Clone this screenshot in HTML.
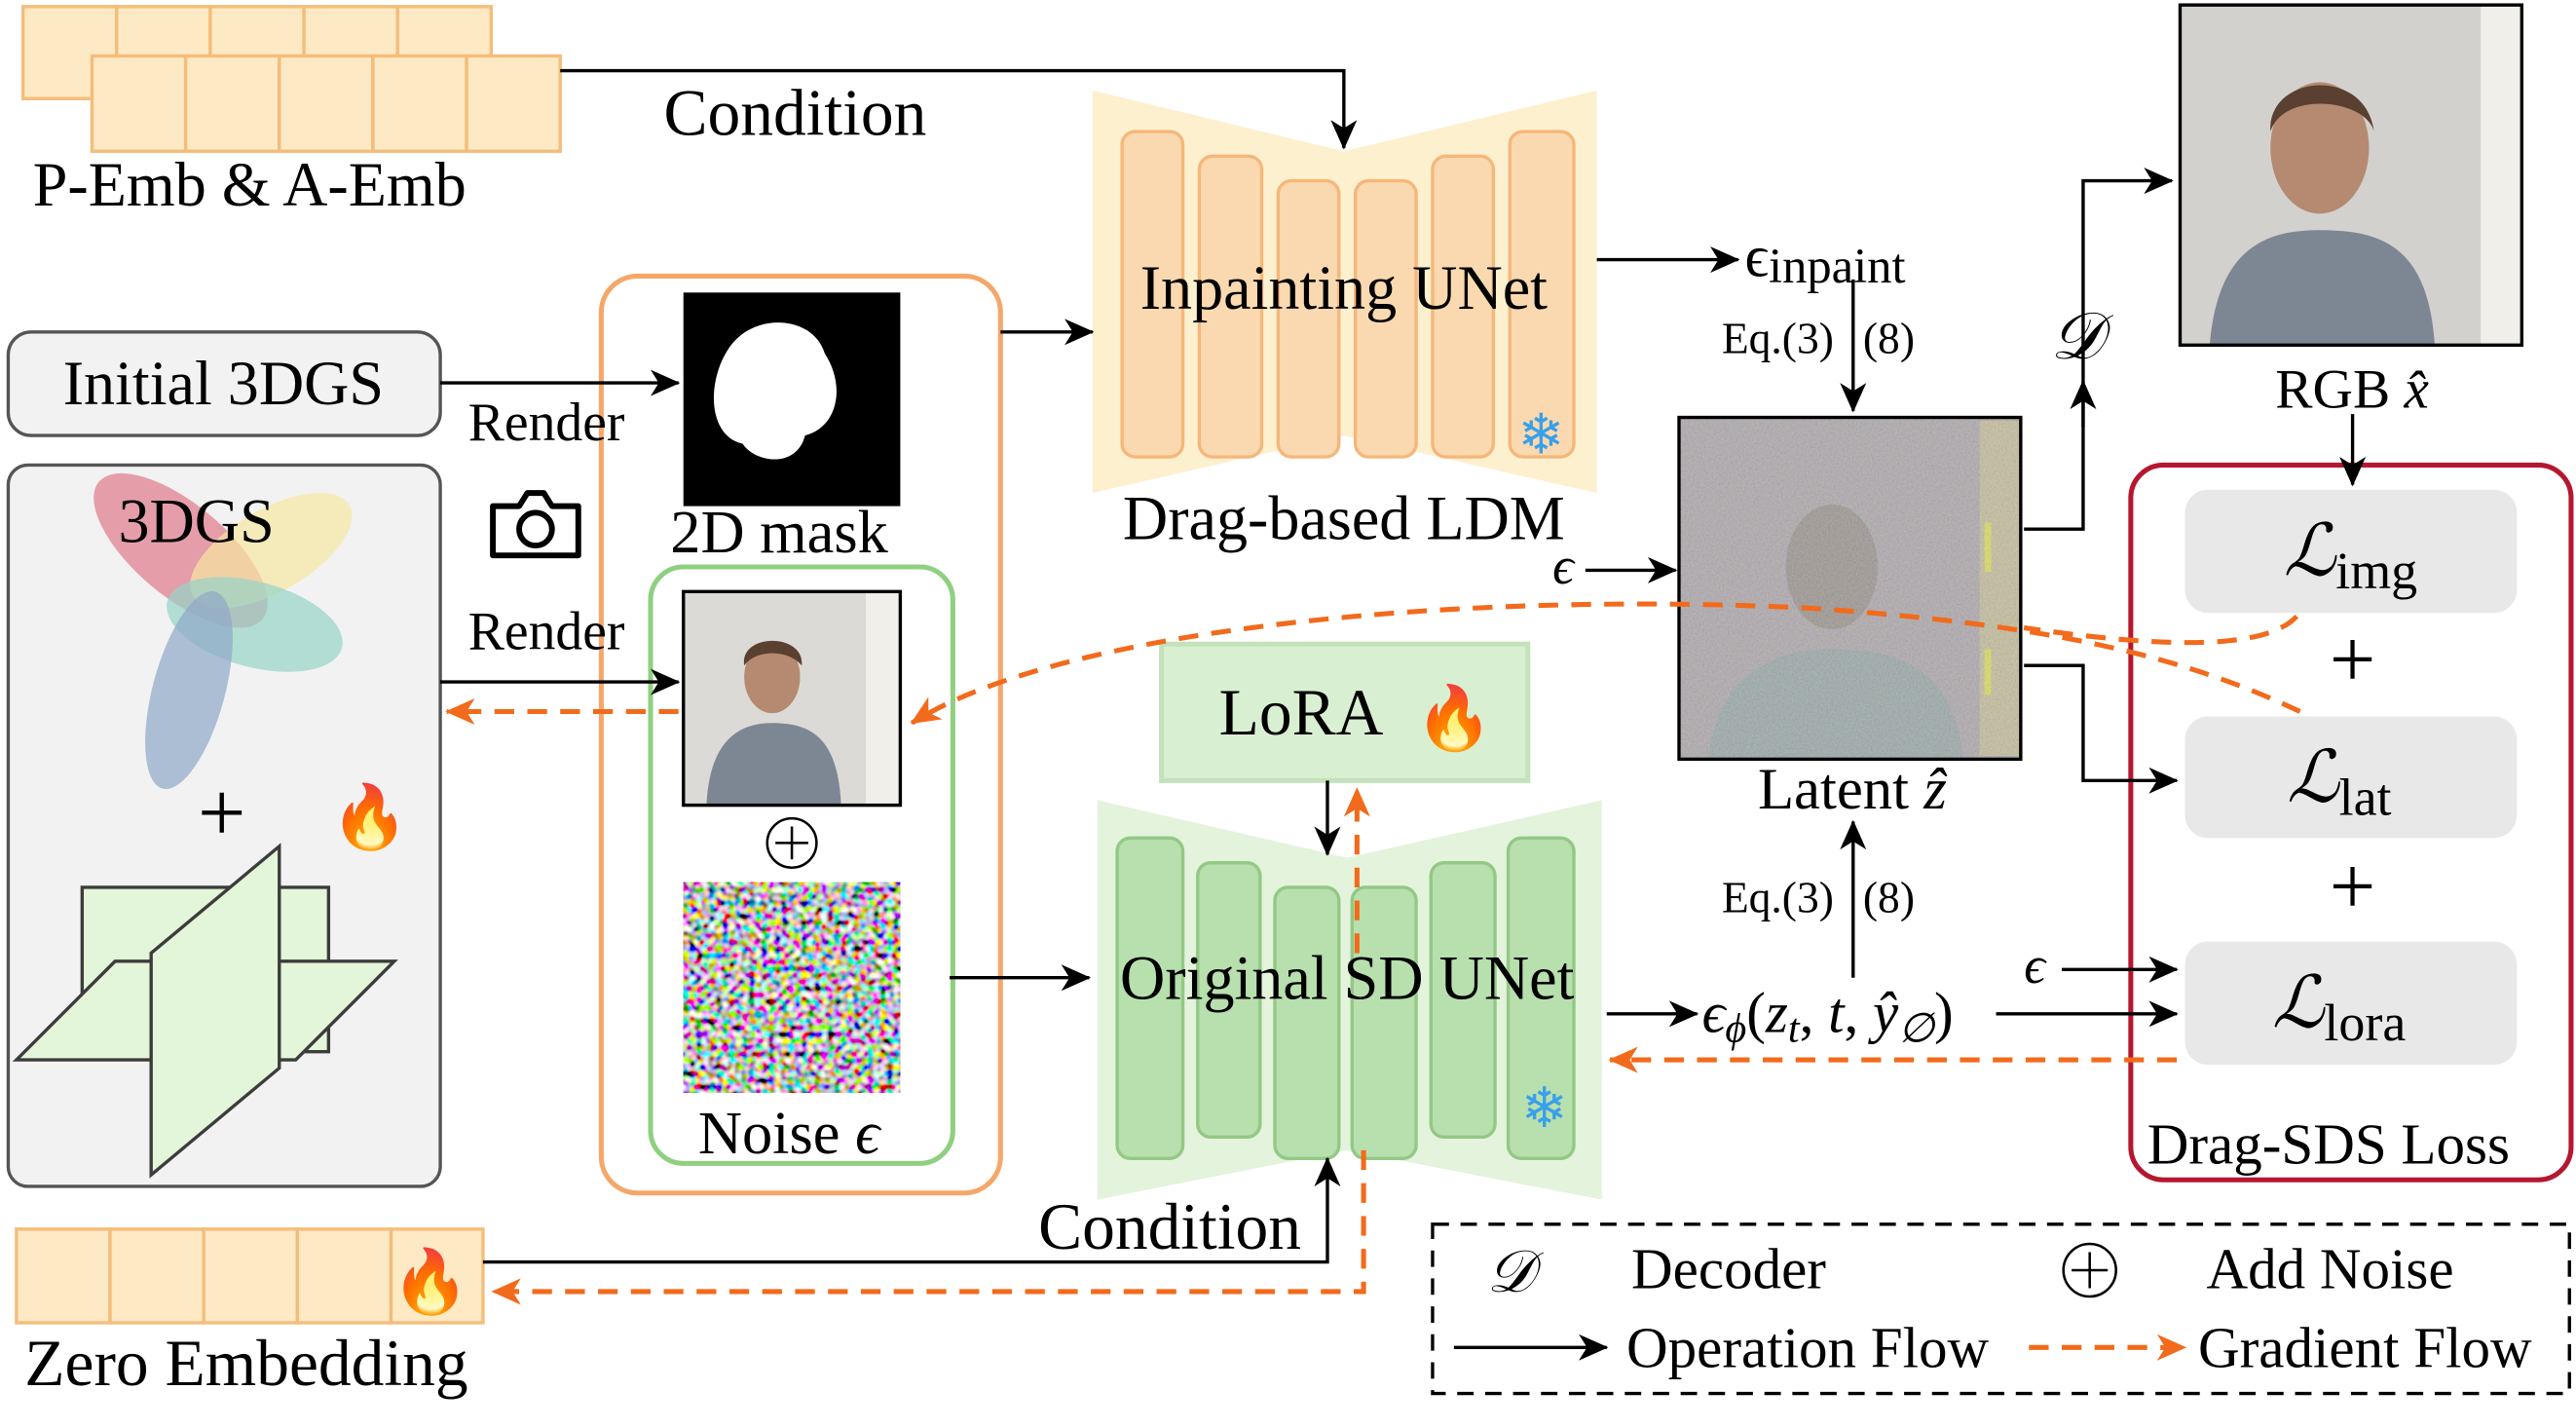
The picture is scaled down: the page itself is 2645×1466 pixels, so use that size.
<!DOCTYPE html>
<html><head><meta charset="utf-8">
<style>
html,body{margin:0;padding:0;background:#fff;}
svg{display:block;}
text{font-family:"Liberation Serif","DejaVu Serif",serif;fill:#000;}
</style></head>
<body>
<svg width="2645" height="1466" viewBox="0 0 1568 869" xmlns="http://www.w3.org/2000/svg">
<defs>
<marker id="ab2" markerWidth="18" markerHeight="16" refX="17" refY="8" orient="auto" markerUnits="userSpaceOnUse"><path d="M0,0 L18,8 L0,16 L5,8 z" fill="#000"/></marker>
<marker id="ao" markerWidth="18" markerHeight="16" refX="17" refY="8" orient="auto" markerUnits="userSpaceOnUse"><path d="M0,0 L18,8 L0,16 L5,8 z" fill="#f26a1b"/></marker>
<filter id="noise" x="0" y="0" width="100%" height="100%">
<feTurbulence type="fractalNoise" baseFrequency="0.25" numOctaves="1" seed="3"/>
<feColorMatrix type="matrix" values="3 0 0 0 -1  0 3 0 0 -1  0 0 3 0 -1  0 0 0 0 1"/>
</filter>
<filter id="lat" x="0" y="0" width="100%" height="100%">
<feTurbulence type="fractalNoise" baseFrequency="0.9" numOctaves="1" seed="5"/>
<feColorMatrix type="matrix" values="0.6 0 0 0 0.2  0 0.6 0 0 0.25  0 0 0.6 0 0.2  0 0 0 0 0.45"/>
</filter>
</defs>

<!-- P-Emb -->
<g fill="#fde9c4" stroke="#f5bd7a" stroke-width="2">
<rect x="14" y="4" width="57" height="56"/><rect x="71" y="4" width="57" height="56"/><rect x="128" y="4" width="57" height="56"/><rect x="185" y="4" width="57" height="56"/><rect x="242" y="4" width="57" height="56"/>
<rect x="56" y="34" width="57" height="58"/><rect x="113" y="34" width="57" height="58"/><rect x="170" y="34" width="57" height="58"/><rect x="227" y="34" width="57" height="58"/><rect x="284" y="34" width="57" height="58"/>
</g>
<text x="20" y="125" font-size="38">P-Emb &amp; A-Emb</text>
<text x="404" y="82" font-size="40">Condition</text>

<!-- Inpainting UNet -->
<polygon points="665,55 818,92 972,55 972,300 818,265 665,300" fill="#fdf0cf"/>
<g fill="#fbd9b0" stroke="#f5b77a" stroke-width="2">
<rect x="683" y="80" width="37" height="198" rx="8"/><rect x="730" y="95" width="38" height="183" rx="8"/><rect x="778" y="110" width="37" height="168" rx="8"/><rect x="825" y="110" width="37" height="168" rx="8"/><rect x="872" y="95" width="37" height="183" rx="8"/><rect x="919" y="80" width="39" height="198" rx="8"/>
</g>
<text x="818" y="188" font-size="38" text-anchor="middle">Inpainting UNet</text>
<text x="938" y="276" font-size="34" text-anchor="middle" style="fill:#3aa0e8">❄</text>
<text x="818" y="328" font-size="38" text-anchor="middle">Drag-based LDM</text>

<text x="1062" y="168" font-size="36">ϵ<tspan font-size="30" dy="4">inpaint</tspan></text>
<text x="1048" y="215" font-size="27">Eq.(3)</text><text x="1134" y="215" font-size="27">(8)</text>

<!-- Latent -->
<rect x="1022" y="254" width="208" height="208" fill="#a99aa6"/>
<rect x="1205" y="256" width="24" height="204" fill="#c7b78f"/>
<rect x="1208" y="318" width="4" height="30" fill="#e8e33a"/><rect x="1208" y="395" width="4" height="28" fill="#e8e33a"/>
<ellipse cx="1115" cy="345" rx="28" ry="38" fill="#8f7f7f"/>
<path d="M1040,462 C1045,410 1080,395 1115,395 C1160,395 1190,410 1195,462 Z" fill="#8d9aa0"/>
<rect x="1022" y="254" width="208" height="208" filter="url(#lat)"/>
<rect x="1022" y="254" width="208" height="208" fill="none" stroke="#000" stroke-width="2"/>
<text x="1070" y="492" font-size="36">Latent <tspan font-style="italic">ẑ</tspan></text>
<text x="1248" y="218" font-size="40" font-style="italic">𝒟</text>

<!-- RGB -->
<rect x="1327" y="3" width="208" height="207" fill="#d3d1cd"/>
<rect x="1510" y="4" width="24" height="205" fill="#f1efea"/>
<ellipse cx="1412" cy="90" rx="30" ry="40" fill="#b58a70"/>
<path d="M1382,80 C1380,45 1440,40 1445,80 C1440,60 1390,55 1382,80Z" fill="#5a4030"/>
<path d="M1345,210 C1350,150 1380,140 1412,140 C1450,140 1478,150 1482,210 Z" fill="#7d8794"/>
<rect x="1327" y="3" width="208" height="207" fill="none" stroke="#000" stroke-width="2"/>
<text x="1385" y="248" font-size="34">RGB <tspan font-style="italic">x̂</tspan></text>

<!-- Loss box -->
<rect x="1297" y="283" width="268" height="435" rx="20" fill="#fff" stroke="#b5172f" stroke-width="3"/>
<g fill="#e8e8e8"><rect x="1330" y="298" width="202" height="75" rx="14"/><rect x="1330" y="436" width="202" height="74" rx="14"/><rect x="1330" y="573" width="202" height="75" rx="14"/></g>
<text x="1390" y="350" font-size="44" font-style="italic">ℒ<tspan font-size="32" font-style="normal" dy="8">img</tspan></text>
<text x="1392" y="488" font-size="44" font-style="italic">ℒ<tspan font-size="32" font-style="normal" dy="8">lat</tspan></text>
<text x="1383" y="625" font-size="44" font-style="italic">ℒ<tspan font-size="32" font-style="normal" dy="8">lora</tspan></text>
<text x="1432" y="418" font-size="50" text-anchor="middle">+</text>
<text x="1432" y="556" font-size="50" text-anchor="middle">+</text>
<text x="1307" y="708" font-size="35">Drag-SDS Loss</text>

<text x="1232" y="598" font-size="32" font-style="italic">ϵ</text>
<text x="1036" y="628" font-size="35" font-style="italic">ϵ<tspan font-size="25" dy="6">ϕ</tspan><tspan dy="-6" font-style="normal">(</tspan>z<tspan font-size="25" dy="6">t</tspan><tspan dy="-6" font-style="normal">, </tspan>t<tspan font-style="normal">, </tspan>ŷ<tspan font-size="25" dy="6">∅</tspan><tspan dy="-6" font-style="normal">)</tspan></text>
<text x="1048" y="555" font-size="27">Eq.(3)</text><text x="1134" y="555" font-size="27">(8)</text>
<text x="945" y="355" font-size="32" font-style="italic">ϵ</text>

<!-- Left -->
<rect x="5" y="202" width="263" height="63" rx="14" fill="#f2f2f2" stroke="#555" stroke-width="2"/>
<text x="136" y="246" font-size="38" text-anchor="middle">Initial 3DGS</text>
<g transform="translate(326,320)" fill="none" stroke="#000" stroke-width="3.5">
<path d="M-26,-12 H-10 L-5,-20 H5 L10,-12 H26 V18 H-26 Z" stroke-linejoin="round"/><circle cx="0" cy="2" r="10"/></g>

<rect x="5" y="283" width="263" height="439" rx="12" fill="#f2f2f2" stroke="#555" stroke-width="2"/>
<ellipse cx="110" cy="335" rx="65" ry="28" transform="rotate(40 110 335)" fill="#e07a8a" opacity="0.7"/>
<ellipse cx="165" cy="335" rx="55" ry="25" transform="rotate(-30 165 335)" fill="#f6e7a3" opacity="0.7"/>
<ellipse cx="155" cy="380" rx="55" ry="26" transform="rotate(15 155 380)" fill="#96d4c8" opacity="0.7"/>
<ellipse cx="115" cy="420" rx="62" ry="22" transform="rotate(-75 115 420)" fill="#8fa8c8" opacity="0.7"/>
<text x="72" y="330" font-size="38">3DGS</text>
<text x="135" y="512" font-size="52" text-anchor="middle">+</text>
<text x="225" y="510" font-size="38" text-anchor="middle">🔥</text>
<g fill="#e3f7d8" stroke="#333" stroke-width="2" opacity="0.95">
<polygon points="50,540 200,540 200,640 50,640"/>
<polygon points="10,645 70,585 240,585 180,645"/>
<polygon points="92,580 170,515 170,650 92,715"/>
</g>

<!-- Orange box -->
<rect x="366" y="168" width="243" height="558" rx="22" fill="#fff" stroke="#f5a76a" stroke-width="3"/>
<rect x="416" y="178" width="132" height="130" fill="#000"/>
<path d="M445,210 C460,190 495,192 502,215 C515,235 510,260 490,265 C485,285 460,282 452,270 C430,265 430,230 445,210Z" fill="#fff"/>
<text x="408" y="336" font-size="37">2D mask</text>
<rect x="396" y="345" width="184" height="363" rx="20" fill="#fff" stroke="#8fd080" stroke-width="3"/>
<rect x="416" y="360" width="132" height="130" fill="#dcdad6"/>
<rect x="527" y="361" width="20" height="128" fill="#f1efea"/>
<ellipse cx="470" cy="412" rx="17" ry="22" fill="#b58a70"/>
<path d="M453,405 C450,385 490,385 488,405 C480,395 460,395 453,405Z" fill="#5a4030"/>
<path d="M430,490 C432,450 450,440 470,440 C495,440 510,450 512,490 Z" fill="#7d8794"/>
<rect x="416" y="360" width="132" height="130" fill="none" stroke="#000" stroke-width="2"/>
<circle cx="482" cy="513" r="15" fill="none" stroke="#000" stroke-width="1.5"/>
<path d="M472,513 H492 M482,503 V523" stroke="#000" stroke-width="1.5"/>
<rect x="416" y="537" width="132" height="128" filter="url(#noise)"/>
<text x="425" y="702" font-size="37">Noise <tspan font-style="italic">ϵ</tspan></text>

<text x="285" y="268" font-size="33">Render</text>
<text x="285" y="395" font-size="33">Render</text>

<!-- LoRA -->
<rect x="707" y="392" width="223" height="83" fill="#d9efd2" stroke="#c4e2bb" stroke-width="3"/>
<text x="742" y="447" font-size="40">LoRA</text>
<text x="885" y="450" font-size="38" text-anchor="middle">🔥</text>

<!-- SD UNet -->
<polygon points="668,487 820,522 975,487 975,730 820,700 668,730" fill="#e3f3dc"/>
<g fill="#b8dfae" stroke="#93c885" stroke-width="2">
<rect x="680" y="510" width="40" height="195" rx="8"/><rect x="729" y="525" width="38" height="167" rx="8"/><rect x="776" y="540" width="39" height="165" rx="8"/><rect x="823" y="540" width="39" height="165" rx="8"/><rect x="871" y="525" width="39" height="167" rx="8"/><rect x="918" y="510" width="40" height="195" rx="8"/>
</g>
<text x="820" y="608" font-size="38" text-anchor="middle">Original SD UNet</text>
<text x="940" y="686" font-size="34" text-anchor="middle" style="fill:#3aa0e8">❄</text>

<!-- bottom -->
<text x="632" y="760" font-size="40">Condition</text>
<g fill="#fde9c4" stroke="#f5bd7a" stroke-width="2">
<rect x="10" y="748" width="57" height="57"/><rect x="67" y="748" width="57" height="57"/><rect x="124" y="748" width="57" height="57"/><rect x="181" y="748" width="57" height="57"/><rect x="238" y="748" width="56" height="57"/>
</g>
<text x="262" y="793" font-size="38" text-anchor="middle">🔥</text>
<text x="15" y="843" font-size="40">Zero Embedding</text>

<!-- legend -->
<rect x="872" y="745" width="692" height="103" fill="#fff" stroke="#000" stroke-width="2" stroke-dasharray="10,7"/>
<text x="905" y="786" font-size="36" font-style="italic">𝒟</text>
<text x="993" y="784" font-size="35">Decoder</text>
<circle cx="1272" cy="773" r="16" fill="none" stroke="#000" stroke-width="1.5"/>
<path d="M1261,773 H1283 M1272,762 V784" stroke="#000" stroke-width="1.5"/>
<text x="1343" y="784" font-size="35">Add Noise</text>
<path d="M885,820 H978" stroke="#000" stroke-width="2" marker-end="url(#ab2)"/>
<text x="990" y="832" font-size="35">Operation Flow</text>
<path d="M1235,820 H1330" stroke="#f26a1b" stroke-width="3" stroke-dasharray="12,8" fill="none" marker-end="url(#ao)"/>
<text x="1338" y="832" font-size="35">Gradient Flow</text>

<!-- ALL CONNECTORS -->
<g fill="none" stroke="#000" stroke-width="2">
<path d="M341,43 H818 V90" marker-end="url(#ab2)"/>
<path d="M972,158 H1058" marker-end="url(#ab2)"/>
<path d="M1128,170 V250" marker-end="url(#ab2)"/>
<path d="M1232,322 H1268 V110 H1322" marker-end="url(#ab2)"/>
<path d="M1268,260 V232" marker-end="url(#ab2)"/>
<path d="M1432,252 V295" marker-end="url(#ab2)"/>
<path d="M1232,405 H1268 V475 H1325" marker-end="url(#ab2)"/>
<path d="M1255,590 H1325" marker-end="url(#ab2)"/>
<path d="M978,617 H1033" marker-end="url(#ab2)"/>
<path d="M1215,617 H1325" marker-end="url(#ab2)"/>
<path d="M1128,595 V500" marker-end="url(#ab2)"/>
<path d="M965,347 H1020" marker-end="url(#ab2)"/>
<path d="M268,233 H413" marker-end="url(#ab2)"/>
<path d="M268,415 H413" marker-end="url(#ab2)"/>
<path d="M609,202 H665" marker-end="url(#ab2)"/>
<path d="M578,595 H663" marker-end="url(#ab2)"/>
<path d="M808,475 V520" marker-end="url(#ab2)"/>
<path d="M294,768 H808 V705" marker-end="url(#ab2)"/>
</g>
<g fill="none" stroke="#f26a1b" stroke-width="3" stroke-dasharray="12,8">
<path d="M1325,645 H980" marker-end="url(#ao)"/>
<path d="M1400,433 C1330,400 1250,380 1100,370 C900,360 650,380 555,440" marker-end="url(#ao)"/>
<path d="M1398,375 C1380,395 1320,395 1232,382"/>
<path d="M413,433 H272" marker-end="url(#ao)"/>
<path d="M826,580 V480" marker-end="url(#ao)"/>
<path d="M830,700 V786 H300" marker-end="url(#ao)"/>
</g>
</svg>
</body></html>
